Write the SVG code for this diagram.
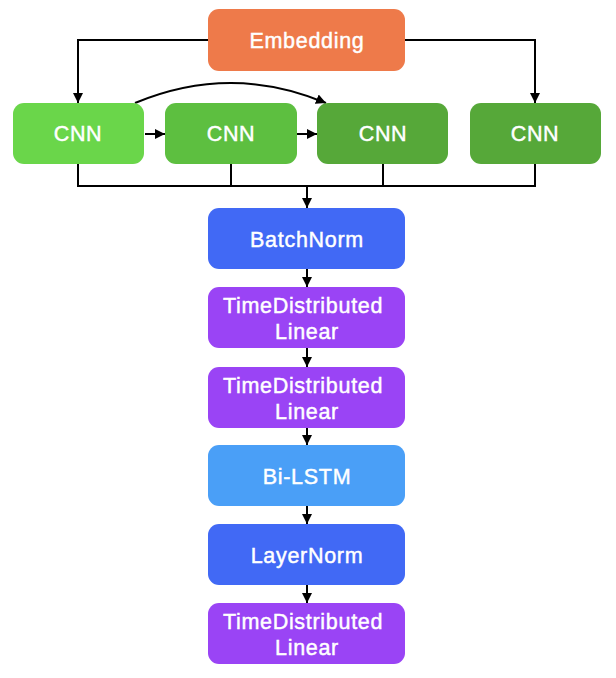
<svg xmlns="http://www.w3.org/2000/svg" width="616" height="678" viewBox="0 0 616 678">
<defs>
<marker id="ah" viewBox="0 0 10 10" refX="10" refY="5" markerWidth="10" markerHeight="10" markerUnits="userSpaceOnUse" orient="auto">
<path d="M0,0 L10,5 L0,10 z" fill="#000"/>
</marker>
<style>
.n rect{rx:11;ry:11}
.t{font-family:"Liberation Sans",Arial,sans-serif;font-size:21.5px;fill:#fff;stroke:#fff;stroke-width:0.45px;text-anchor:middle;letter-spacing:0.7px}
.c{fill:none;stroke:#000;stroke-width:2}
.a{fill:none;stroke:#000;stroke-width:2;marker-end:url(#ah)}
</style>
</defs>
<rect width="616" height="678" fill="#fff"/>
<g id="connectors">
<polyline class="a" points="208,40 78,40 78,103"/>
<polyline class="a" points="405,40 535,40 535,103"/>
<path class="a" d="M135,103 Q231,63 326,103"/>
<line class="a" x1="145" y1="134" x2="165" y2="134"/>
<line class="a" x1="297" y1="134" x2="317" y2="134"/>
<polyline class="c" points="78,164 78,186 535,186 535,164"/>
<line class="c" x1="231" y1="164" x2="231" y2="186"/>
<line class="c" x1="383" y1="164" x2="383" y2="186"/>
<line class="a" x1="307" y1="186" x2="307" y2="208"/>
<line class="a" x1="307" y1="269" x2="307" y2="287"/>
<line class="a" x1="307" y1="348" x2="307" y2="367"/>
<line class="a" x1="307" y1="428" x2="307" y2="445"/>
<line class="a" x1="307" y1="506" x2="307" y2="524"/>
<line class="a" x1="307" y1="585" x2="307" y2="603"/>
</g>
<g id="embedding" class="n"><rect x="208" y="9" width="197" height="62" fill="#EE7A4A"/><text class="t" x="307" y="48">Embedding</text></g>
<g id="cnn1" class="n"><rect x="13" y="103" width="131" height="61" fill="#6AD64A"/><text class="t" x="78" y="141">CNN</text></g>
<g id="cnn2" class="n"><rect x="165" y="103" width="132" height="61" fill="#5DBF40"/><text class="t" x="231" y="141">CNN</text></g>
<g id="cnn3" class="n"><rect x="317" y="103" width="131" height="61" fill="#56A839"/><text class="t" x="383" y="141">CNN</text></g>
<g id="cnn4" class="n"><rect x="470" y="103" width="131" height="61" fill="#56A839"/><text class="t" x="535" y="141">CNN</text></g>
<g id="batchnorm" class="n"><rect x="208" y="208" width="197" height="61" fill="#4169F5"/><text class="t" x="307" y="247">BatchNorm</text></g>
<g id="td1" class="n"><rect x="208" y="287" width="197" height="61" fill="#9A44F5"/><text class="t" x="303" y="313">TimeDistributed</text><text class="t" x="307" y="339">Linear</text></g>
<g id="td2" class="n"><rect x="208" y="367" width="197" height="61" fill="#9A44F5"/><text class="t" x="303" y="393">TimeDistributed</text><text class="t" x="307" y="419">Linear</text></g>
<g id="bilstm" class="n"><rect x="208" y="445" width="197" height="61" fill="#4A9FF7"/><text class="t" x="307" y="484">Bi-LSTM</text></g>
<g id="layernorm" class="n"><rect x="208" y="524" width="197" height="61" fill="#4169F5"/><text class="t" x="307" y="563">LayerNorm</text></g>
<g id="td3" class="n"><rect x="208" y="603" width="197" height="61" fill="#9A44F5"/><text class="t" x="303" y="629">TimeDistributed</text><text class="t" x="307" y="655">Linear</text></g>
</svg>
